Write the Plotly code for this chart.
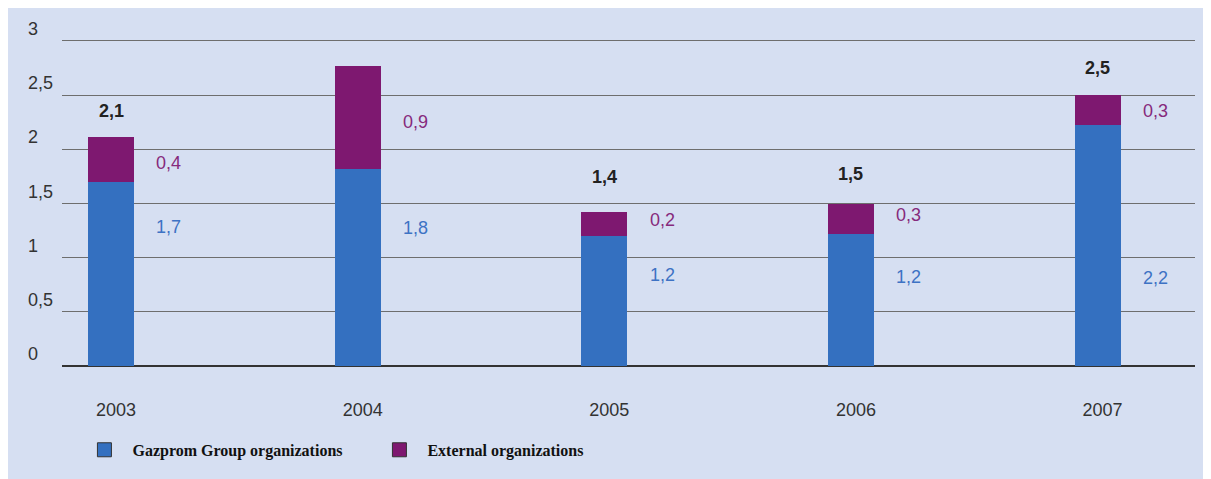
import plotly.graph_objects as go

years = ["2003", "2004", "2005", "2006", "2007"]
gazprom = [1.70, 1.82, 1.20, 1.22, 2.22]
external = [0.41, 0.95, 0.22, 0.28, 0.28]
gazprom_labels = ["1,7", "1,8", "1,2", "1,2", "2,2"]
external_labels = ["0,4", "0,9", "0,2", "0,3", "0,3"]
total_labels = ["2,1", "2,7", "1,4", "1,5", "2,5"]
y_ticks = [0, 0.5, 1, 1.5, 2, 2.5, 3]
y_tick_text = ["0", "0,5", "1", "1,5", "2", "2,5", "3"]

# label placement (data units)
gaz_label_y = [1.28, 1.27, 0.84, 0.82, 0.81]
ext_label_y = [1.87, 2.25, 1.35, 1.39, 2.35]
tot_label_y = [2.35, 3.12, 1.745, 1.77, 2.75]

BLUE = "#3470c0"
PURPLE = "#7e1870"
NARROW = "Liberation Sans Narrow, Arial Narrow, Liberation Sans, Arial, sans-serif"
FS = 18
xs = list(range(len(years)))

fig = go.Figure()
fig.add_trace(go.Bar(x=xs, y=gazprom, name="Gazprom Group organizations", showlegend=False,
                     marker=dict(color=BLUE, line=dict(width=0)), width=0.187))
fig.add_trace(go.Bar(x=xs, y=external, name="External organizations", showlegend=False,
                     marker=dict(color=PURPLE, line=dict(width=0)), width=0.187))
# legend entries
for name, col in [("Gazprom Group organizations", BLUE), ("External organizations", PURPLE)]:
    fig.add_trace(go.Scatter(x=[None], y=[None], mode="markers", name="\u00a0\u00a0" + name,
                             marker=dict(symbol="square", size=14, color=col,
                                         line=dict(color="#333333", width=1))))

ann = []
for i in xs:
    ann.append(dict(x=i + 0.176, y=gaz_label_y[i], text=gazprom_labels[i], showarrow=False,
                    xanchor="left", yanchor="middle", font=dict(family=NARROW, size=FS, color="#3d72c4")))
    ann.append(dict(x=i + 0.176, y=ext_label_y[i], text=external_labels[i], showarrow=False,
                    xanchor="left", yanchor="middle", font=dict(family=NARROW, size=FS, color="#862a7c")))
    ann.append(dict(x=i, y=tot_label_y[i], text="<b>" + total_labels[i] + "</b>", showarrow=False,
                    xanchor="center", yanchor="middle", font=dict(family=NARROW, size=FS, color="#222222")))
for v, t in zip(y_ticks, y_tick_text):
    ann.append(dict(xref="paper", x=-0.0318, y=v, yref="y", text=t, showarrow=False,
                    xanchor="left", yanchor="middle", yshift=12,
                    font=dict(family=NARROW, size=FS, color="#333333")))

fig.update_layout(
    width=1211, height=479,
    margin=dict(l=54, r=24, t=22, b=110, autoexpand=False),
    paper_bgcolor="#d6dff2",
    plot_bgcolor="#d6dff2",
    barmode="stack",
    bargap=0,
    showlegend=True,
    legend=dict(orientation="h", traceorder="normal", x=0.0198, y=-0.161, xanchor="left", yanchor="top",
                font=dict(family="Liberation Serif, Times New Roman, serif", size=16, color="#111111",
                          weight="bold"),
                bgcolor="rgba(0,0,0,0)", entrywidth=250, entrywidthmode="pixels", itemclick=False),
    annotations=ann,
    xaxis=dict(range=[-0.199, 4.395], tickvals=xs, ticktext=years, showgrid=False,
               zeroline=False, showline=False, ticks="", ticklabelstandoff=20, ticklabelshift=5,
               automargin=False,
               tickfont=dict(family=NARROW, size=FS, color="#333333")),
    yaxis=dict(range=[-0.1, 3.1], tickvals=y_ticks, showticklabels=False, showgrid=True,
               gridcolor="#6e6e6e", gridwidth=1.3, zeroline=True, zerolinecolor="#333333",
               zerolinewidth=1.5, showline=False, ticks="", automargin=False),
    font=dict(family=NARROW),
)

fig.write_html("out.html")
